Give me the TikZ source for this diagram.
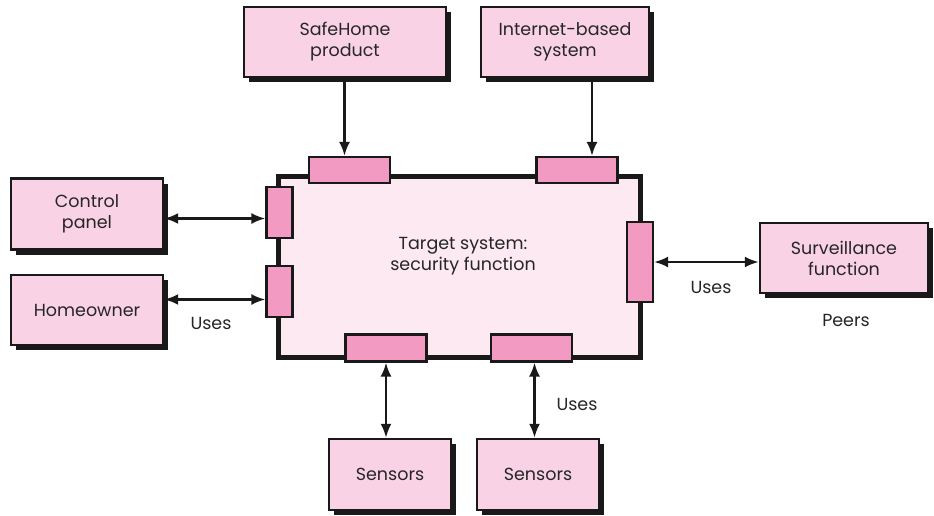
\documentclass[tikz,border=0pt]{standalone}
\usepackage{fontspec}
\setmainfont{Poppins}
\usetikzlibrary{arrows.meta,shadows}
\definecolor{extfill}{HTML}{F9D3E5}
\definecolor{mainfill}{HTML}{FCE9F2}
\definecolor{portfill}{HTML}{F29AC2}
\begin{document}
\begin{tikzpicture}[x=1pt,y=-1pt,
  every node/.style={font=\fontsize{17.5}{21}\selectfont, text=black!85},
  ext/.style={draw=black!90, line width=2.4pt, fill=extfill, align=center, inner sep=0pt,
     drop shadow={shadow xshift=5pt, shadow yshift=-5pt, fill=black!90, opacity=1}},
  mainbox/.style={draw=black!90, line width=5pt, fill=mainfill, inner sep=0pt},
  port/.style={draw=black!90, line width=2.2pt, fill=portfill, inner sep=0pt},
  conn/.style={line width=2.4pt, draw=black!90, -{Latex[length=14pt,width=11pt]}},
  bconn/.style={line width=2.4pt, draw=black!90, {Latex[length=14pt,width=11pt]}-{Latex[length=14pt,width=11pt]}},
  lbl/.style={inner sep=0pt}
]
\useasboundingbox (0,0) rectangle (934,516);
% main box
\node[mainbox, minimum width=362pt, minimum height=181pt] (main) at (459,266.5) {};
\node[align=center] (mainlbl) at (463,256) {Target system:\\security function};
% ports
\node[port, minimum width=81pt, minimum height=26pt] (pt1) at (349.5,170) {};
\node[port, minimum width=81pt, minimum height=26pt] (pt2) at (577,170) {};
\node[port, minimum width=26pt, minimum height=51pt] (pl1) at (279.5,212.5) {};
\node[port, minimum width=26pt, minimum height=51pt] (pl2) at (279.5,291.5) {};
\node[port, minimum width=26pt, minimum height=80pt] (pr) at (640,262) {};
\node[port, minimum width=81pt, minimum height=27pt] (pb1) at (386,348) {};
\node[port, minimum width=81pt, minimum height=27pt] (pb2) at (531.5,348) {};
% external boxes
\node[ext, minimum width=202pt, minimum height=70pt] (safe) at (345,42) {SafeHome\\product};
\node[ext, minimum width=168pt, minimum height=70pt] (inet) at (565,42) {Internet-based\\system};
\node[ext, minimum width=152pt, minimum height=71pt] (ctrl) at (87,214) {Control\\panel};
\node[ext, minimum width=152pt, minimum height=70pt] (home) at (87,310) {Homeowner};
\node[ext, minimum width=168pt, minimum height=70pt] (surv) at (844,258) {Surveillance\\function};
\node[ext, minimum width=122pt, minimum height=71pt] (sen1) at (390,474.5) {Sensors};
\node[ext, minimum width=122pt, minimum height=71pt] (sen2) at (538,474.5) {Sensors};
% connectors
\draw[conn] (safe.south -| pt1.north) ++(-5,0) coordinate (a1) -- (a1 |- pt1.north);
\draw[conn] (inet.south -| pt2.north) ++(15,0) coordinate (a2) -- (a2 |- pt2.north);
\draw[bconn] (ctrl.east |- pl1.west) ++(0,6) coordinate (c1) -- (c1 -| pl1.west);
\draw[bconn] (home.east |- pl2.west) ++(0,8) coordinate (c2) -- (c2 -| pl2.west);
\draw[bconn] (pr.east) -- (pr.east -| surv.west);
\draw[bconn] (pb1.south) -- (pb1.south |- sen1.north);
\draw[bconn] (pb2.south) ++(3,0) coordinate (b2) -- (b2 |- sen2.north);
% labels
\node[lbl] (uses1) at (211,323) {Uses};
\node[lbl] (uses2) at (711,287) {Uses};
\node[lbl] (peers) at (846,320) {Peers};
\node[lbl] (uses3) at (577,404) {Uses};
\end{tikzpicture}
\end{document}
